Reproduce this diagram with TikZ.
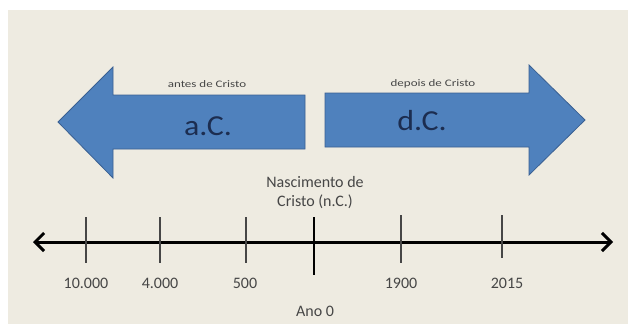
\documentclass[tikz,border=0pt]{standalone}
\usepackage{fontspec}
\setmainfont{Carlito}
\usepackage{tikz}
\usetikzlibrary{arrows.meta}

\definecolor{bgbeige}{RGB}{238,235,225}
\definecolor{arrowblue}{RGB}{79,129,189}
\definecolor{arrowedge}{RGB}{58,96,146}
\definecolor{darknavy}{RGB}{28,45,80}
\definecolor{labelgray}{RGB}{70,70,70}

\tikzset{
    bigarrow/.style={fill=arrowblue, draw=arrowedge, line width=0.8pt},
    smalltext/.style={font=\fontsize{10}{12}\selectfont, text=labelgray},
    eratext/.style={font=\fontsize{29}{32}\selectfont, text=darknavy},
    yeartext/.style={font=\fontsize{16}{19}\selectfont, text=labelgray},
    thintick/.style={draw=labelgray, line width=1.3pt},
}

\begin{document}
\begin{tikzpicture}[x=1pt,y=-1pt]
    % Background
    \useasboundingbox (0,0) rectangle (628,324);
    \fill[white] (0,0) rectangle (628,324);
    \fill[bgbeige] (8,10) rectangle (628,324);

    % Era arrows
    \filldraw[bigarrow] (305,95) -- (113,95) -- (113,67) -- (58,122) -- (113,178) -- (113,149) -- (305,149) -- cycle;
    \filldraw[bigarrow] (325,93) -- (529,93) -- (529,65) -- (585,120) -- (529,175) -- (529,147) -- (325,147) -- cycle;
    \node[smalltext] (antes) at (207,84) {\scalebox{1.3}[1]{antes de Cristo}};
    \node[smalltext] (depois) at (433,84) {\scalebox{1.3}[1]{depois de Cristo}};
    \node[eratext] (ac) at (208,126) {\scalebox{1.1}[1]{a.C.}};
    \node[eratext] (dc) at (422,121) {\scalebox{1.1}[1]{d.C.}};

    % Timeline
    \coordinate (tlwest) at (33,242);
    \coordinate (tleast) at (613,242);
    \draw[line width=3pt, {Straight Barb[length=9pt,width=18pt]}-{Straight Barb[length=9pt,width=18pt]}] (tlwest) -- (tleast);
    \foreach \name/\x/\ytop/\ybot/\yr/\lx in {y10000/86/217/263/10.000/86, y4000/160/217/263/4.000/160, y500/246/217/263/500/245, y1900/401/215/263/1900/401, y2015/502/215/258/2015/507} {
        \coordinate (\name top) at (\x,\ytop);
        \coordinate (\name bot) at (\x,\ybot);
        \draw[thintick] (\name top) -- (\name bot);
        \node[yeartext] (\name lab) at (\lx,283) {\yr};
    }

    % Year zero
    \coordinate (zerotop) at (314,217);
    \coordinate (zerobot) at (314,275);
    \draw[line width=2.4pt] (zerotop) -- (zerobot);
    \node[yeartext, align=center] (nasc) at (315,193) {Nascimento de\\Cristo (n.C.)};
    \node[yeartext] (ano) at (315,311) {Ano 0};
\end{tikzpicture}
\end{document}
